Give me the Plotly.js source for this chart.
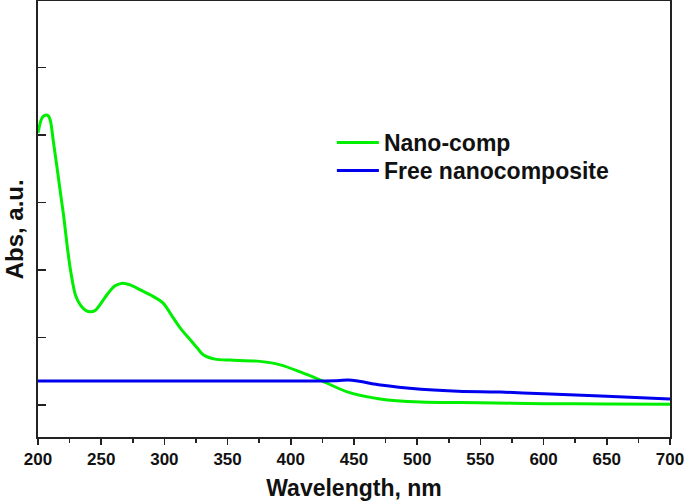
<!DOCTYPE html>
<html>
<head>
<meta charset="utf-8">
<script src="https://cdn.plot.ly/plotly-3.0.1.min.js"></script>
<style>
  html, body { margin: 0; padding: 0; background: #fff; }
  #chart { width: 685px; height: 503px; }
</style>
</head>
<body>
<div id="chart"></div>
<script>
// Wavelength (nm) and absorbance (a.u.)
const nanoCompWavelength = [200, 202, 203.6, 206.3, 208.3, 210, 212, 215, 218, 220.4, 223, 225.7, 229.6, 233.6, 237.5, 241.5, 245.5, 249.4, 255, 261, 266.8, 273, 281, 289, 299, 307, 312.6, 320.5, 326, 331, 340, 352, 373.5, 391.7, 407.5, 423.3, 444.6, 470.7, 502.4, 549.8, 600, 650, 700];
const nanoCompAbs = [0.806, 0.839, 0.853, 0.859, 0.856, 0.839, 0.785, 0.705, 0.622, 0.557, 0.474, 0.400, 0.326, 0.296, 0.281, 0.276, 0.281, 0.299, 0.329, 0.353, 0.361, 0.356, 0.341, 0.326, 0.302, 0.258, 0.228, 0.193, 0.169, 0.148, 0.136, 0.133, 0.130, 0.119, 0.098, 0.074, 0.039, 0.018, 0.009, 0.007, 0.004, 0.003, 0.002];

const freeWavelength = [200, 250, 300, 350, 400, 420, 435, 445, 453, 471, 503, 550, 566, 600, 650, 700];
const freeAbs = [0.071, 0.071, 0.071, 0.071, 0.071, 0.071, 0.072, 0.074, 0.071, 0.059, 0.047, 0.039, 0.0385, 0.033, 0.026, 0.018];

const seriesNames = ["Nano-comp", "Free nanocomposite"];
const xTickValues = [200, 250, 300, 350, 400, 450, 500, 550, 600, 650, 700];
const yTickValues = [0, 0.2, 0.4, 0.6, 0.8, 1.0];
const yAxisTitle = "Abs, a.u.";
const xAxisTitle = "Wavelength, nm";

const FONT = "'Liberation Sans', Arial, sans-serif";
const legendFont = { family: FONT, size: 23, weight: 'bold', color: '#111' };

const traces = [
  {
    x: nanoCompWavelength, y: nanoCompAbs, name: seriesNames[0],
    type: 'scatter', mode: 'lines', legend: 'legend',
    line: { color: '#00ee00', width: 3, shape: 'spline', smoothing: 0.8 }
  },
  {
    x: freeWavelength, y: freeAbs, name: seriesNames[1],
    type: 'scatter', mode: 'lines', legend: 'legend2',
    line: { color: '#0000ee', width: 3, shape: 'spline', smoothing: 0.6 }
  }
];

const layout = {
  width: 685, height: 503,
  margin: { l: 38, r: 15, t: 1, b: 66 },
  paper_bgcolor: '#fff', plot_bgcolor: '#fff',
  font: { family: FONT, color: '#111' },
  showlegend: true,
  legend: {
    x: 0.465, y: 0.7248, xanchor: 'left', yanchor: 'top',
    bgcolor: 'rgba(0,0,0,0)', borderwidth: 0, itemwidth: 42,
    font: legendFont
  },
  legend2: {
    x: 0.465, y: 0.6606, xanchor: 'left', yanchor: 'top',
    bgcolor: 'rgba(0,0,0,0)', borderwidth: 0, itemwidth: 42,
    font: legendFont
  },
  xaxis: {
    range: [200, 700], autorange: false,
    tickmode: 'array', tickvals: xTickValues, ticktext: xTickValues.map(String),
    ticks: 'outside', ticklen: 6, tickwidth: 1.5, tickcolor: '#222',
    minor: { dtick: 25, ticks: 'outside', ticklen: 4, tickwidth: 1.5, tickcolor: '#222' },
    showline: true, linecolor: '#222', linewidth: 2, mirror: true,
    showgrid: false, zeroline: false,
    tickfont: { family: FONT, size: 17, weight: 'bold', color: '#111' },
    title: { text: xAxisTitle, font: { family: FONT, size: 23, weight: 'bold', color: '#111' }, standoff: 11 }
  },
  yaxis: {
    range: [-0.0948, 1.197], autorange: false,
    tickmode: 'array', tickvals: yTickValues,
    ticks: 'inside', ticklen: 8, tickwidth: 1.5, tickcolor: '#222',
    showticklabels: false,
    showline: true, linecolor: '#222', linewidth: 2, mirror: true,
    showgrid: false, zeroline: false
  },
  annotations: [
    {
      text: yAxisTitle, textangle: -90, showarrow: false,
      xref: 'paper', yref: 'paper', x: -0.0375, y: 0.477,
      xanchor: 'center', yanchor: 'middle', borderpad: 0,
      font: { family: FONT, size: 24, weight: 'bold', color: '#111' }
    }
  ]
};

Plotly.newPlot('chart', traces, layout, { staticPlot: true, displayModeBar: false });
</script>
</body>
</html>
